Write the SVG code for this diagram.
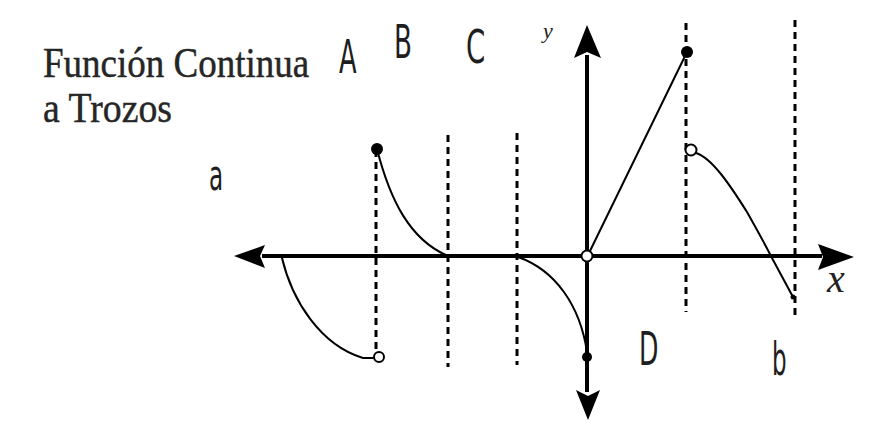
<svg xmlns="http://www.w3.org/2000/svg" width="882" height="425" viewBox="0 0 882 425">
<style>
.title{font-family:"Liberation Serif","Times New Roman",serif;font-size:37px;fill:#262626;stroke:#262626;stroke-width:0.4}
.lbl{font-family:"DejaVu Sans",sans-serif;font-size:46px;fill:#1e1e1e}
.axis{stroke:#000;stroke-width:4;fill:none}
.dash{stroke:#000;stroke-width:3;stroke-dasharray:7 5;fill:none}
.curve{stroke:#000;stroke-width:2;fill:none;stroke-linecap:round}
.head{fill:#000}
.open{fill:#fff;stroke:#000;stroke-width:2}
.dot{fill:#000}
</style>
<rect width="882" height="425" fill="#fff"/>
<g id="title">
<text class="title" transform="translate(43,77) scale(1,1.13)">Función Continua</text>
<text class="title" transform="translate(43,122) scale(1.02,1.13)">a Trozos</text>
</g>
<g id="labels">
<text class="lbl" transform="translate(339,73) scale(0.56,1)">A</text>
<text class="lbl" transform="translate(394,58) scale(0.57,1)">B</text>
<text class="lbl" transform="translate(466,63) scale(0.6,1)">C</text>
<text class="lbl" transform="translate(639,365) scale(0.55,1)">D</text>
<text class="lbl" transform="translate(209,190) scale(0.55,1)" style="font-size:42px">a</text>
<text class="lbl" transform="translate(772,375) scale(0.5,1)">b</text>
<text x="543" y="38" style="font-family:'Liberation Serif',serif;font-style:italic;font-size:22px;fill:#222">y</text>
<text x="827" y="292" style="font-family:'Liberation Serif',serif;font-style:italic;font-size:40px;fill:#222">x</text>
</g>
<g id="guides">
<line class="dash" x1="376" y1="150" x2="376" y2="352"/>
<line class="dash" x1="448" y1="135" x2="448" y2="367"/>
<line class="dash" x1="517" y1="133" x2="517" y2="365"/>
<line class="dash" x1="686" y1="23" x2="686" y2="312"/>
<line class="dash" x1="795" y1="20" x2="795" y2="319"/>
</g>
<g id="axes">
<line class="axis" x1="262" y1="256" x2="822" y2="256"/>
<polygon class="head" points="234,256 265,245 260,256 265,268"/>
<polygon class="head" points="854,257 818,244 823,257 818,270"/>
<line class="axis" x1="587" y1="55" x2="587" y2="392"/>
<polygon class="head" points="587,25 574,58 587,52 601,58"/>
<polygon class="head" points="588,420 576,390 588,396 600,390"/>
</g>
<g id="connectors">
<path class="curve" d="M282,258 C292,300 320,345 363,358 L374,358"/>
<path class="curve" d="M377,149 C390,200 410,240 448,256"/>
<path class="curve" d="M518,257 C555,270 580,305 587,352"/>
<path class="curve" d="M589,253 L687,52"/>
<path class="curve" d="M696,153 C712,158 730,185 747,212 C756,228 765,244 772,258 L793,297"/>
</g>
<g id="points">
<circle class="dot" cx="377" cy="149" r="6"/>
<circle class="open" cx="379" cy="357" r="5"/>
<circle class="open" cx="587" cy="256" r="5.5"/>
<circle class="dot" cx="587" cy="357" r="5"/>
<circle class="dot" cx="687" cy="52" r="6"/>
<circle class="open" cx="691" cy="150" r="5.5"/>
<circle class="dot" cx="793" cy="297" r="2.5"/>
</g>
</svg>
